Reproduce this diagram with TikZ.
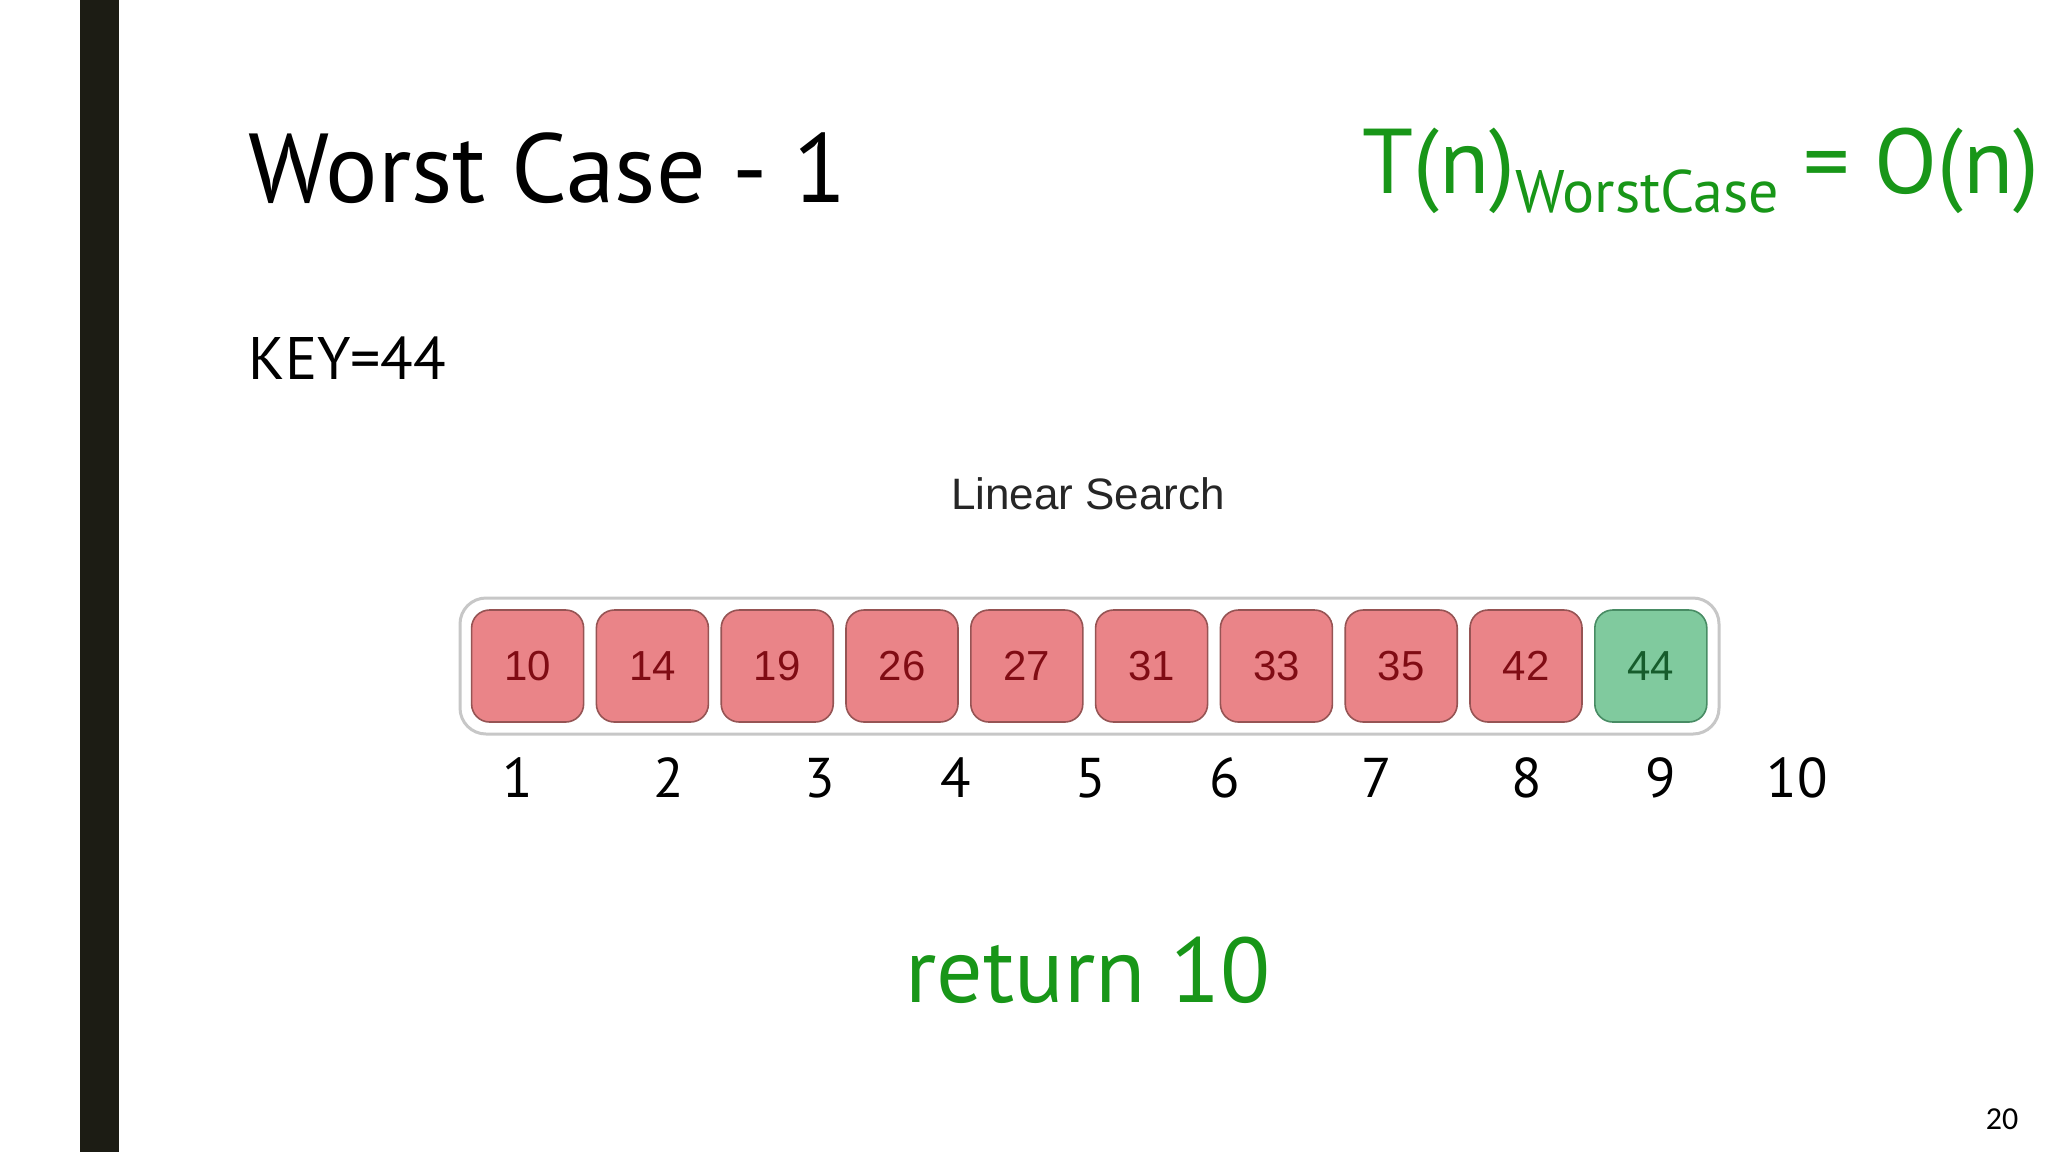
\documentclass[tikz,border=0pt]{standalone}
\usepackage{fontspec}
\setmainfont{PT Sans}
\newfontfamily\arialfont{Liberation Sans}
\newfontfamily\calibrifont{Carlito}
\usetikzlibrary{positioning}

\definecolor{slidegreen}{RGB}{24,150,24}
\definecolor{barblack}{RGB}{28,28,20}
\definecolor{cellred}{RGB}{234,132,136}
\definecolor{celledge}{RGB}{150,84,84}
\definecolor{celltext}{RGB}{128,12,20}
\definecolor{cellgreen}{RGB}{128,202,158}
\definecolor{greenedge}{RGB}{72,140,100}
\definecolor{greentext}{RGB}{22,92,44}

\begin{document}
\begin{tikzpicture}[
    x=0.5pt, y=-0.5pt,
    cell/.style={draw=celledge, line width=0.8pt, fill=cellred, rounded corners=9pt,
        minimum width=56pt, minimum height=56pt, inner sep=0pt,
        text=celltext, font=\arialfont\fontsize{21}{24}\selectfont},
    found/.style={cell, draw=greenedge, fill=cellgreen, text=greentext},
    index/.style={anchor=base, font=\fontsize{28}{32}\selectfont},
    title/.style={anchor=base west, font=\fontsize{49}{58}\selectfont},
]
\useasboundingbox (0,0) rectangle (2048,1152);
\fill[white] (0,0) rectangle (2048,1152);
\fill[barblack] (80,0) rectangle (119,1152);

% Headings
\node[title, inner sep=0pt] (head) at (248,202) {Worst Case - 1};
\node[anchor=base west, inner sep=0pt, text=slidegreen, font=\fontsize{46}{52}\selectfont] (bound) at (1362,193)
  {T(n)\raisebox{-9.5pt}{\fontsize{30}{34}\selectfont WorstCase} = O(n)};
\node[anchor=base west, inner sep=0pt, font=\fontsize{30}{36}\selectfont] (key) at (248,379) {KEY=44};

% Array
\node[anchor=base, inner sep=0pt, text=black!85, font=\arialfont\fontsize{22}{26}\selectfont] (caption) at (1088,509) {Linear Search};
\draw[draw=black!22, line width=1.5pt, fill=white, rounded corners=13pt] (460,598) rectangle (1719,734);
\foreach \v [count=\i] in {10,14,19,26,27,31,33,35,42} {
  \node[cell] (cell\i) at ({527.6+124.8*(\i-1)},666) {\v};
}
\node[found] (cell10) at ({527.6+124.8*9},666) {44};

% Positions
\foreach \px [count=\i] in {518,669,820,956,1091,1225,1377,1527,1661,1797} {
  \node[index, inner sep=0pt] (idx\i) at (\px,797) {\i};
}

% Result
\node[anchor=base, inner sep=0pt, text=slidegreen, font=\fontsize{46}{54}\selectfont] (result) at (1088,1002) {return 10};
\node[inner sep=0pt, font=\calibrifont\fontsize{16}{18}\selectfont] (page) at (2002,1119) {20};

\end{tikzpicture}
\end{document}
